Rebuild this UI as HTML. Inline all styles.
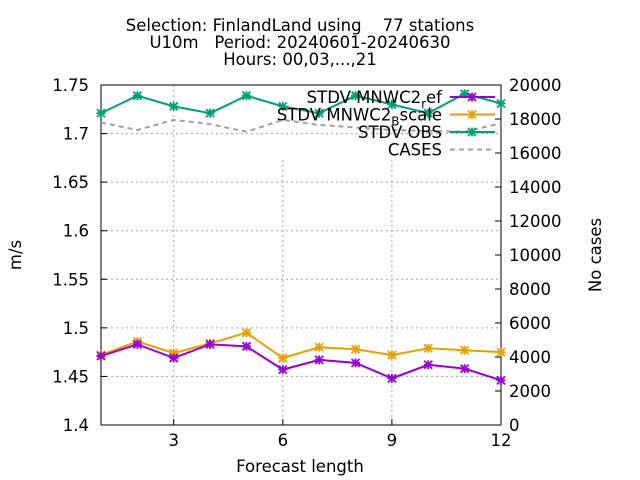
<!DOCTYPE html>
<html><head><meta charset="utf-8"><style>
body{margin:0;background:#fff}
svg{display:block;font-family:"DejaVu Sans",sans-serif;font-size:16.5px}
</style></head><body>
<svg id="c" width="640" height="480">
<g text-anchor="middle" fill="#000">
<text x="300" y="31" xml:space="preserve">Selection: FinlandLand using    77 stations</text>
<text x="300" y="48" xml:space="preserve">U10m   Period: 20240601-20240630</text>
<text x="300" y="65">Hours: 00,03,...,21</text>
</g>
<g id="grid"></g>
<g id="axes"></g>
<g id="series"></g>
<g id="legend"></g>
<text x="21" y="255" transform="rotate(-90 21 255)" text-anchor="middle">m/s</text>
<text x="601" y="255" transform="rotate(-90 601 255)" text-anchor="middle">No cases</text>
<text x="300" y="472" text-anchor="middle">Forecast length</text>
</svg>
<script>
const leads=[1,2,3,4,5,6,7,8,9,10,11,12];
const stdvEf=[1.471,1.483,1.469,1.483,1.481,1.457,1.467,1.464,1.448,1.462,1.458,1.446];
const stdvBscale=[1.472,1.486,1.474,1.484,1.495,1.469,1.480,1.478,1.472,1.479,1.477,1.475];
const stdvObs=[1.721,1.739,1.728,1.721,1.739,1.728,1.721,1.739,1.730,1.721,1.741,1.731];
const cases=[17800,17350,17950,17700,17250,17950,17650,17500,17350,17300,17250,17750];
const xTicks=[3,6,9,12];
const yTicks=[1.4,1.45,1.5,1.55,1.6,1.65,1.7,1.75];
const y2Ticks=[0,2000,4000,6000,8000,10000,12000,14000,16000,18000,20000];

const L=101,R=501,T=85,B=425;
const X=v=>L+(v-1)*(R-L)/11;
const Y=v=>B-(v-1.4)*(B-T)/0.35;
const Y2=v=>B-v*(B-T)/20000;
const NS="http://www.w3.org/2000/svg";
function mk(tag,attrs,parent){const e=document.createElementNS(NS,tag);for(const k in attrs)e.setAttribute(k,attrs[k]);parent.appendChild(e);return e;}
const grid=document.getElementById('grid'),axes=document.getElementById('axes'),series=document.getElementById('series'),legend=document.getElementById('legend');

xTicks.forEach(t=>{
  if(t<12){const top=(X(t)>250)?160:T;
  const g=mk('line',{x1:X(t),x2:X(t),y1:top,y2:B,stroke:'#a0a0a0','stroke-dasharray':'2,3'},grid);
  
  }
  const tk=mk('line',{x1:X(t),x2:X(t),y1:B,y2:B-6,stroke:'#000'},axes);
  
  
  const lb=mk('text',{x:X(t),y:B+21,'text-anchor':'middle'},axes);lb.textContent=t;
  
  
});
yTicks.forEach(t=>{
  if(t>1.4&&t<1.75){const g=mk('line',{x1:L,x2:R,y1:Y(t),y2:Y(t),stroke:'#a0a0a0','stroke-dasharray':'2,3'},grid);
  
  }
  const tk=mk('line',{x1:L,x2:L+6,y1:Y(t),y2:Y(t),stroke:'#000'},axes);
  
  
  const lb=mk('text',{x:L-12,y:Y(t)+6,'text-anchor':'end'},axes);lb.textContent=(t===1.4||t===1.5||t===1.6||t===1.7)?t.toFixed(1):t.toFixed(2);
  
  
});
y2Ticks.forEach(t=>{
  const tk=mk('line',{x1:R,x2:R-6,y1:Y2(t),y2:Y2(t),stroke:'#000'},axes);
  
  
  const lb=mk('text',{x:R+8,y:Y2(t)+6,'text-anchor':'start'},axes);lb.textContent=t;
  
  
});
const frame=mk('rect',{x:L,y:T,width:R-L,height:B-T,fill:'none',stroke:'#000'},axes);



function star(x,y,col,p){
  const g=mk('g',{stroke:col,'stroke-width':1.8},p);
  mk('line',{x1:x-4.5,y1:y,x2:x+4.5,y2:y},g);mk('line',{x1:x,y1:y-4.5,x2:x,y2:y+4.5},g);
  mk('line',{x1:x-4,y1:y-4,x2:x+4,y2:y+4},g);mk('line',{x1:x-4,y1:y+4,x2:x+4,y2:y-4},g);
  return g;
}
const cl=mk('polyline',{points:leads.map((l,i)=>X(l)+','+Y2(cases[i])).join(' '),fill:'none',stroke:'#a0a0a0','stroke-width':2,'stroke-dasharray':'5,4'},series);


const defs=[[stdvObs,'#009e73','stdv-obs'],[stdvBscale,'#e69f00','stdv-mnwc2-bscale'],[stdvEf,'#9400d3','stdv-mnwc2-ef']];
defs.forEach(([d,col,nm])=>{
  const pl=mk('polyline',{points:leads.map((l,i)=>X(l)+','+Y(d[i])).join(' '),fill:'none',stroke:col,'stroke-width':2},series);
  
  
  leads.forEach((l,i)=>{const s=star(X(l),Y(d[i]),col,series);
    
    });
});

const items=[['STDV MNWC2_ef','#9400d3',false],['STDV MNWC2_Bscale','#e69f00',false],['STDV OBS','#009e73',false],['CASES','#a0a0a0',true]];
items.forEach((it,i)=>{
  const y=97+i*17.5;
  const g=mk('g',{},legend);
  
  
  const t=mk('text',{x:442,y:y+6,'text-anchor':'end'},g);
  if(i===0){t.innerHTML='STDV MNWC2<tspan dy="5" font-size="12">r</tspan><tspan dy="-5">ef</tspan>';}
  else if(i===1){t.innerHTML='STDV MNWC2<tspan dy="5" font-size="12">B</tspan><tspan dy="-5">scale</tspan>';}
  else t.textContent=it[0];
  const ln=mk('line',{x1:450,x2:495,y1:y,y2:y,stroke:it[1],'stroke-width':2},g);
  if(it[2])ln.setAttribute('stroke-dasharray','5,4');else star(472,y,it[1],g);
});
</script>
</body></html>
